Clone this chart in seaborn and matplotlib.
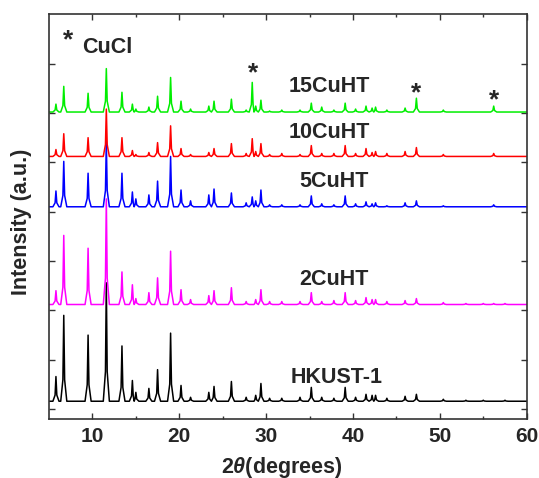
import pandas as pd
import matplotlib
matplotlib.use('Agg')
import matplotlib.pyplot as plt
import seaborn as sns

# peak positions (2theta) and heights, one list per sample
peaks = [5.8, 6.7, 9.5, 11.6, 13.4, 14.6, 15.0, 16.5, 17.5, 19.0, 20.2, 21.3, 23.4, 24.0,
         26.0, 27.7, 28.4, 28.8, 29.4, 30.4, 31.8, 33.9, 35.2, 36.4, 37.8, 39.1, 40.3,
         41.5, 42.2, 42.6, 43.9, 46.0, 47.3, 50.4, 53.0, 55.0, 56.2, 57.5]

h_hkust = [25, 87, 67, 120, 56, 21, 9, 13, 32, 69, 16, 4, 9, 15,
           20, 4, 0, 6, 18, 3, 3, 4, 14, 4, 3, 14, 4,
           7, 6, 6, 3, 5, 7, 2, 1, 1, 0, 1]
h_2cuht = [14, 70, 57, 107, 33, 20, 6, 12, 27, 54, 15, 5, 9, 14,
           17, 3, 0, 5, 15, 3, 3, 3, 12, 3, 4, 12, 4,
           7, 5, 5, 3, 4, 6, 2, 1, 1, 1, 1]
h_5cuht = [16, 46, 34, 66, 34, 15, 8, 12, 26, 51, 17, 6, 12, 18,
           14, 4, 10, 6, 17, 2, 2, 2, 11, 3, 2, 11, 3,
           5, 3, 4, 1, 4, 6, 1, 0, 0, 2, 0]
h_10cuht = [7, 23, 19, 48, 19, 6, 2, 4, 14, 31, 8, 2, 4, 8,
            13, 3, 18, 5, 13, 2, 3, 2, 11, 3, 3, 11, 3,
            8, 4, 5, 3, 5, 9, 2, 0, 0, 3, 0]
h_15cuht = [8, 26, 19, 44, 20, 8, 3, 5, 16, 35, 11, 3, 6, 11,
            13, 2, 30, 6, 12, 1, 2, 2, 9, 5, 2, 9, 3,
            6, 4, 5, 2, 4, 14, 2, 0, 0, 6, 0]

samples = ['HKUST-1', '2CuHT', '5CuHT', '10CuHT', '15CuHT']
baselines = [8, 106, 205, 256, 301]
heights = [h_hkust, h_2cuht, h_5cuht, h_10cuht, h_15cuht]
colors = ['black', '#ff00ff', '#0000ff', '#ff0000', '#00ee00']

# line vertices for each reflection: foot, skirt, top, skirt, foot
rows = []
for name, base, hs in zip(samples, baselines, heights):
    rows.append((name, 5.0, base))
    for i, (p, h) in enumerate(zip(peaks, hs)):
        if h <= 0:
            continue
        gap_l = p - peaks[i - 1] if i > 0 else 1.0
        gap_r = peaks[i + 1] - p if i < len(peaks) - 1 else 1.0
        wl = min(0.35, gap_l / 2)
        wr = min(0.35, gap_r / 2)
        rows.append((name, p - wl, base))
        rows.append((name, p - 0.1, base + 0.25 * h))
        rows.append((name, p, base + h))
        rows.append((name, p + 0.1, base + 0.25 * h))
        rows.append((name, p + wr, base))
    rows.append((name, 60.0, base))
df = pd.DataFrame(rows, columns=['sample', 'angle', 'intensity'])

sns.set_style('ticks')
plt.rcParams['font.family'] = ['Liberation Sans', 'DejaVu Sans']
plt.rcParams['font.weight'] = 'bold'
plt.rcParams['mathtext.fontset'] = 'custom'
plt.rcParams['mathtext.it'] = 'Liberation Sans:italic:bold'
plt.rcParams['mathtext.rm'] = 'Liberation Sans:bold'

fig = plt.figure(figsize=(5.39, 4.78), dpi=100)
ax = fig.add_axes([49/539, 1-419/478, 477.7/539, 404.7/478])

sns.lineplot(data=df, x='angle', y='intensity', hue='sample', hue_order=samples,
             palette=colors, sort=False, estimator=None, legend=False,
             linewidth=1.1, ax=ax)

ax.set_xlim(5, 60)
ax.set_ylim(-10, 400)
ax.set_xticks([10, 20, 30, 40, 50, 60])
ax.set_xticks([15, 25, 35, 45, 55], minor=True)
ax.set_yticks([0, 50, 100, 150, 200, 250, 300, 350])
ax.set_yticklabels([])
ax.tick_params(axis='both', which='both', direction='in', top=True, right=True,
               color='#333333')
ax.tick_params(axis='both', which='major', length=4, width=1)
ax.tick_params(axis='x', which='minor', length=2.5, width=1)
ax.tick_params(axis='x', labelsize=15, pad=6)
for lab in ax.get_xticklabels():
    lab.set_fontweight('bold')
for sp in ax.spines.values():
    sp.set_color('#333333')
    sp.set_linewidth(1.2)
ax.set_xlabel('')
ax.set_ylabel('')

fig.text(282/539, 1-467/478, r'2$\theta$(degrees)', fontsize=15.5, fontweight='bold',
         ha='center', va='center')
fig.text(22/539, 1-222/478, 'Intensity (a.u.)', fontsize=15.5, fontweight='bold',
         rotation=90, ha='center', va='center')

# sample labels
lab_x = [38.1, 37.8, 37.8, 37.3, 37.3]
lab_y = [26.5, 126, 225, 275, 321]
for name, xx, yy in zip(samples, lab_x, lab_y):
    ax.text(xx, yy, name, fontsize=15.5, fontweight='bold', ha='center', va='baseline')

# CuCl markers
star_x = [28.5, 47.3, 56.2]
star_y = [333, 313, 306]
for xx, yy in zip(star_x, star_y):
    ax.text(xx, yy, '*', fontsize=19, fontweight='bold', ha='center', va='baseline')
ax.text(7.2, 367, '*', fontsize=19, fontweight='bold', ha='center', va='baseline')
ax.text(11.7, 361, 'CuCl', fontsize=15.5, fontweight='bold', ha='center', va='baseline')

plt.savefig('out.png', dpi=100)
